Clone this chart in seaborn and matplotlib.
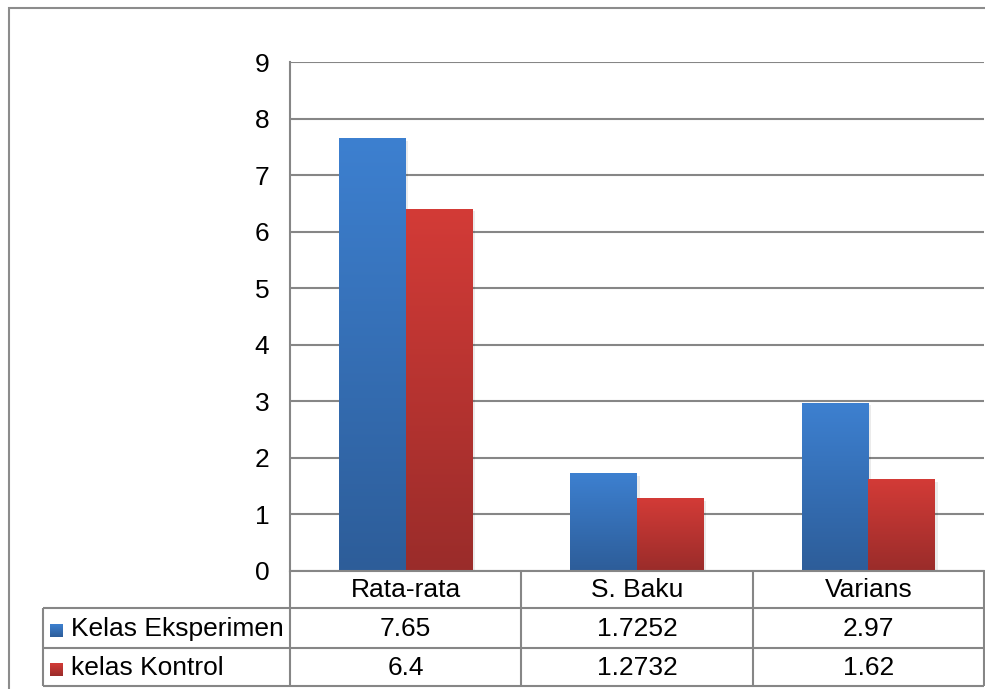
import numpy as np
import pandas as pd
import matplotlib
matplotlib.use('Agg')
import matplotlib.pyplot as plt
import matplotlib.transforms as mtransforms
from matplotlib.lines import Line2D
from matplotlib.patches import Rectangle
from matplotlib.colors import LinearSegmentedColormap
import seaborn as sns

# Data
categories = ['Rata-rata', 'S. Baku', 'Varians']
series_names = ['Kelas Eksperimen', 'kelas Kontrol']
eksperimen = [7.65, 1.7252, 2.97]
kontrol = [6.4, 1.2732, 1.62]
eksperimen_labels = ['7.65', '1.7252', '2.97']
kontrol_labels = ['6.4', '1.2732', '1.62']
y_ticks = [0, 1, 2, 3, 4, 5, 6, 7, 8, 9]

df = pd.DataFrame({
    'kategori': categories * 2,
    'kelas': [series_names[0]] * 3 + [series_names[1]] * 3,
    'nilai': eksperimen + kontrol,
})

# colours (dark bottom, light top)
grad_colors = {
    series_names[0]: ('#2d5d99', '#3d80d0'),
    series_names[1]: ('#9a2c2a', '#d33b37'),
}
grid_col = '#868686'
FS = 19

sns.set_theme(style='white')
plt.rcParams['font.family'] = ['Liberation Sans', 'DejaVu Sans']

W, H = 985, 689
fig = plt.figure(figsize=(W / 100, H / 100), dpi=100)
ax = fig.add_axes([290 / W, 1 - 571 / H, (984 - 290) / W, (571 - 62) / H])

sns.barplot(data=df, x='kategori', y='nilai', hue='kelas', order=categories,
            hue_order=series_names, width=0.576, saturation=1,
            palette=[grad_colors[s][1] for s in series_names],
            errorbar=None, legend=False, ax=ax)

grad = np.linspace(0, 1, 256).reshape(-1, 1)

# vertical gradient fill on each bar
for i, patch in enumerate(ax.patches):
    s = series_names[i // len(categories)]
    cmap = LinearSegmentedColormap.from_list('g', grad_colors[s])
    x0, w, h = patch.get_x(), patch.get_width(), patch.get_height()
    # soft shadow
    ax.add_patch(Rectangle((x0 + 0.012, 0), w, h - 0.04, color='black', alpha=0.08, zorder=1.5, lw=0))
    ax.imshow(grad, extent=[x0, x0 + w, 0, h], origin='lower', cmap=cmap,
              aspect='auto', zorder=2)
    patch.set_facecolor('none')
    patch.set_edgecolor('none')

ax.set_xlim(-0.5, 2.5)
ax.set_ylim(0, 9)
ax.set_yticks(y_ticks)
ax.set_axisbelow(True)
ax.yaxis.grid(True, color=grid_col, lw=1.5)
ax.xaxis.grid(False)
for side in ['top', 'right']:
    ax.spines[side].set_visible(False)
for side in ['left', 'bottom']:
    ax.spines[side].set_color(grid_col)
    ax.spines[side].set_linewidth(1.5)
ax.tick_params(axis='y', length=0, pad=15, labelsize=FS, labelcolor='black')
ax.tick_params(axis='x', length=0, pad=5, labelsize=FS, labelcolor='black')
ax.set_xlabel('')
ax.set_ylabel('')

# data table under the axis
def fy(y):
    return 1 - y / H

def fx(x):
    return x / W

blend = mtransforms.blended_transform_factory(ax.transData, fig.transFigure)

def line(xs, ys, transform):
    fig.add_artist(Line2D(xs, ys, transform=transform, color=grid_col, lw=1.5,
                          solid_capstyle='butt'))

row_lines = [608, 648, 686]
for y in row_lines:
    line([fx(43), fx(984)], [fy(y), fy(y)], fig.transFigure)
line([fx(43), fx(43)], [fy(608), fy(686)], fig.transFigure)
for b in [-0.5, 0.5, 1.5, 2.5]:
    line([b, b], [fy(571), fy(686)], blend)

row_base = [636, 675]
for r, (name, labels) in enumerate(zip(series_names, [eksperimen_labels, kontrol_labels])):
    fig.text(fx(71), fy(row_base[r]), name, fontsize=FS, color='black', va='baseline', ha='left')
    # legend key with the same gradient
    key_ax = fig.add_axes([fx(50), fy(row_base[r] + 1), 13 / W, 13 / H])
    key_ax.imshow(grad, origin='lower', aspect='auto',
                  cmap=LinearSegmentedColormap.from_list('k', grad_colors[name]))
    key_ax.set_axis_off()
    for i, lab in enumerate(labels):
        fig.text(i, fy(row_base[r]), lab, fontsize=FS, color='black', va='baseline',
                 ha='center', transform=blend)

# outer chart border
fig.add_artist(Rectangle((fx(9), fy(8) - 2), 5, 2, transform=fig.transFigure,
                         fill=False, edgecolor='#8c8c8c', lw=1.5))

fig.savefig('out.png', dpi=100)
plt.close(fig)
